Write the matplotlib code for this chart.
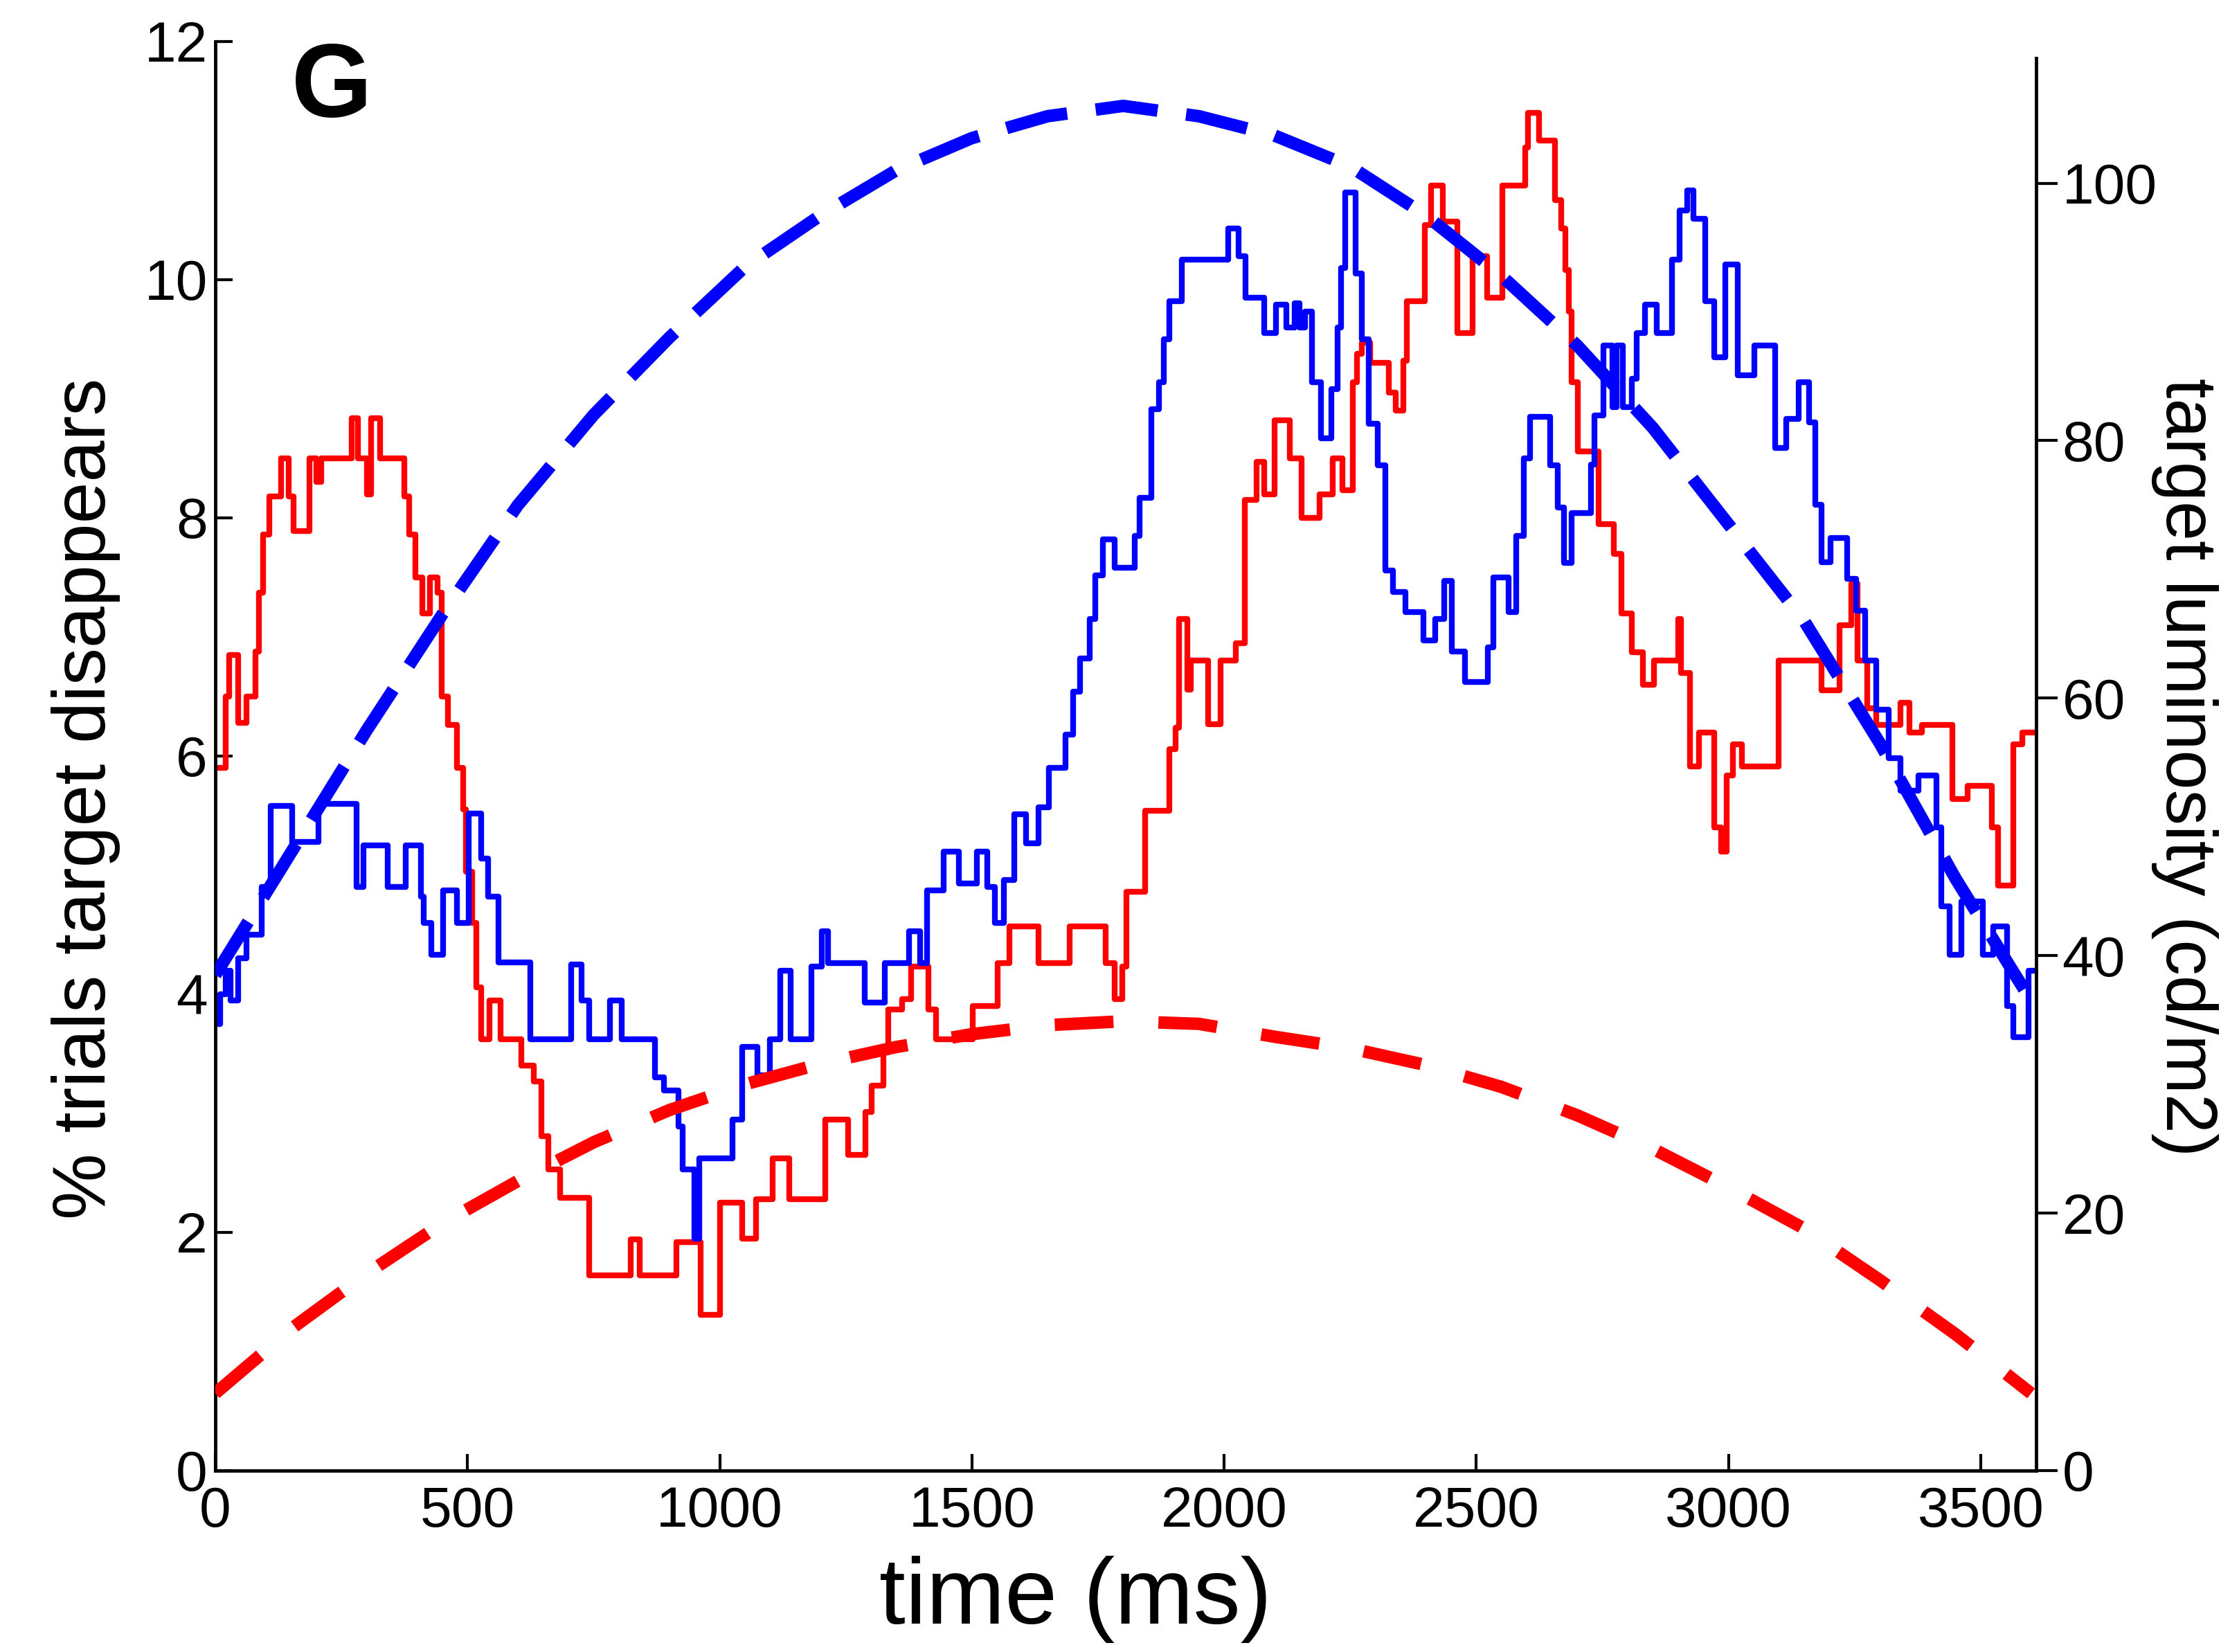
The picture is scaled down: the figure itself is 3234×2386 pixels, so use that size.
import matplotlib
matplotlib.use("Agg")
import matplotlib.pyplot as plt

plt.rcParams["font.family"] = ["Liberation Sans", "DejaVu Sans"]

# -------------------------------
# DATA
# -------------------------------
# % trials target disappears, red condition (step trace)
red_t = [0, 21, 27, 45, 62, 80, 86, 95, 107, 131, 146, 155, 187, 200, 210,
         271, 283, 300, 309, 327, 375, 384, 396, 410, 425, 440, 449, 461, 479,
         491, 497, 509, 518, 527, 544, 565, 607, 631, 646, 660, 684, 741, 824,
         842, 914, 962, 1001, 1045, 1072, 1105, 1138, 1209, 1254, 1289, 1301,
         1325, 1334, 1361, 1379, 1414, 1429, 1501, 1551, 1575, 1632, 1694,
         1765, 1783, 1798, 1806, 1844, 1892, 1904, 1910, 1927, 1934, 1969,
         1993, 2023, 2041, 2064, 2079, 2100, 2130, 2154, 2189, 2216, 2234,
         2255, 2264, 2273, 2290, 2326, 2340, 2356, 2362, 2398, 2410, 2433,
         2463, 2493, 2522, 2552, 2597, 2603, 2624, 2656, 2668, 2677, 2683,
         2689, 2701, 2743, 2773, 2788, 2809, 2830, 2852, 2900, 2906, 2924,
         2942, 2972, 2985, 2997, 3009, 3027, 3100, 3184, 3220, 3244, 3256,
         3275, 3293, 3341, 3359, 3383, 3444, 3474, 3522, 3534, 3565, 3583,
         3610]
red_pct = [5.9, 6.5, 6.85, 6.28, 6.5, 6.88, 7.37, 7.86, 8.18, 8.5, 8.18, 7.89,
           8.5, 8.3, 8.5, 8.84, 8.5, 8.2, 8.84, 8.5, 8.18, 7.86, 7.5, 7.2, 7.5,
           7.37, 6.5, 6.26, 5.9, 5.55, 5.03, 4.6, 4.06, 3.62, 3.95, 3.62, 3.4,
           3.27, 2.81, 2.53, 2.29, 1.64, 1.94, 1.64, 1.92, 1.31, 2.25, 1.95,
           2.28, 2.62, 2.28, 2.95, 2.65, 3.01, 3.23, 3.53, 3.87, 3.96, 4.23,
           3.87, 3.62, 3.9, 4.26, 4.57, 4.26, 4.57, 4.26, 3.96, 4.23, 4.86,
           5.54, 6.06, 6.24, 7.15, 6.56, 6.8, 6.27, 6.8, 6.95, 8.15, 8.47, 8.2,
           8.82, 8.5, 8.0, 8.2, 8.5, 8.23, 9.14, 9.38, 9.47, 9.3, 9.05, 8.9,
           9.32, 9.82, 10.46, 10.79, 10.49, 9.55, 10.2, 9.85, 10.79, 11.11,
           11.4, 11.17, 10.67, 10.43, 10.08, 9.73, 9.14, 8.56, 7.95, 7.7, 7.2,
           6.87, 6.6, 6.8, 7.15, 6.7, 5.91, 6.2, 5.4, 5.2, 5.84, 6.1, 5.91, 6.8,
           6.55, 7.1, 7.45, 6.8, 6.4, 6.26, 6.45, 6.2, 6.26, 5.64, 5.75, 5.4,
           4.91, 6.1, 6.2, 6.2]

# % trials target disappears, blue condition (step trace)
blue_t = [0, 10, 21, 30, 45, 62, 92, 110, 152, 205, 280, 294, 342, 378, 408,
          413, 428, 452, 479, 503, 527, 541, 562, 625, 705, 726, 741, 782, 806,
          872, 890, 918, 926, 950, 959, 1025, 1045, 1075, 1099, 1120, 1141,
          1182, 1203, 1215, 1287, 1328, 1376, 1397, 1411, 1444, 1474, 1510,
          1530, 1545, 1563, 1584, 1608, 1632, 1652, 1685, 1700, 1715, 1733,
          1745, 1760, 1783, 1823, 1832, 1856, 1871, 1880, 1892, 1916, 2008,
          2029, 2043, 2079, 2103, 2124, 2140, 2150, 2160, 2174, 2192, 2213,
          2225, 2232, 2240, 2261, 2273, 2287, 2305, 2320, 2335, 2359, 2395,
          2418, 2436, 2451, 2478, 2523, 2534, 2564, 2579, 2594, 2606, 2647,
          2662, 2674, 2689, 2728, 2734, 2752, 2770, 2778, 2790, 2809, 2818,
          2834, 2858, 2888, 2903, 2918, 2930, 2954, 2972, 2994, 3018, 3051,
          3093, 3115, 3139, 3160, 3172, 3184, 3202, 3235, 3253, 3271, 3293,
          3317, 3341, 3377, 3413, 3422, 3438, 3462, 3504, 3525, 3552, 3565,
          3595, 3610]
blue_pct = [3.75, 4.0, 4.2, 3.95, 4.3, 4.5, 4.9, 5.58, 5.28, 5.6, 4.9, 5.25,
            4.9, 5.25, 4.82, 4.6, 4.33, 4.87, 4.6, 5.52, 5.14, 4.82, 4.27,
            3.62, 4.25, 3.95, 3.62, 3.95, 3.62, 3.3, 3.19, 2.89, 2.53, 1.95,
            2.62, 2.95, 3.56, 3.32, 3.62, 4.2, 3.62, 4.23, 4.53, 4.26, 3.93,
            4.26, 4.53, 4.26, 4.87, 5.2, 4.93, 5.2, 4.9, 4.6, 4.96, 5.51, 5.27,
            5.57, 5.9, 6.18, 6.54, 6.82, 7.15, 7.52, 7.82, 7.58, 7.85, 8.17,
            8.91, 9.14, 9.5, 9.82, 10.17, 10.43, 10.2, 9.85, 9.55, 9.79, 9.6,
            9.8, 9.6, 9.73, 9.14, 8.67, 9.08, 9.6, 10.1, 10.73, 10.05, 9.5,
            8.79, 8.44, 7.56, 7.38, 7.21, 6.97, 7.15, 7.47, 6.88, 6.62, 6.91,
            7.5, 7.21, 7.85, 8.5, 8.85, 8.44, 8.09, 7.62, 8.04, 8.45, 8.86,
            9.45, 8.93, 9.45, 8.93, 9.17, 9.55, 9.79, 9.55, 10.17, 10.58,
            10.75, 10.51, 9.82, 9.35, 10.13, 9.2, 9.45, 8.59, 8.83, 9.14, 8.8,
            8.11, 7.63, 7.83, 7.49, 7.22, 6.8, 6.39, 5.98, 5.71, 5.84, 5.4,
            4.74, 4.33, 4.78, 4.33, 4.57, 3.9, 3.64, 4.2, 4.2]

# target luminosity (cd/m2), dashed curves on the right axis
lum_t = [0, 150, 300, 450, 600, 750, 900, 1050, 1200, 1350, 1500, 1650, 1800,
         1950, 2100, 2250, 2400, 2550, 2700, 2850, 3000, 3150, 3300, 3450, 3600]
lum_blue = [38.5, 48.0, 57.5, 66.5, 75.0, 82.0, 88.0, 93.5, 97.5, 101.0,
            103.5, 105.2, 106.0, 105.2, 103.7, 101.3, 97.5, 92.8, 87.4, 81.0,
            73.5, 66.0, 56.5, 46.0, 36.5]
lum_red = [6.0, 11.0, 15.3, 19.2, 22.5, 25.5, 28.0, 30.0, 31.6, 32.9, 33.9,
           34.6, 34.9, 34.7, 33.7, 32.8, 31.5, 29.8, 27.6, 25.0, 22.0, 18.8,
           14.8, 10.6, 6.0]

x_ticks = [0, 500, 1000, 1500, 2000, 2500, 3000, 3500]
left_ticks = [0, 2, 4, 6, 8, 10, 12]
right_ticks = [0, 20, 40, 60, 80, 100]

# -------------------------------
# PLOT
# -------------------------------
fig = plt.figure(figsize=(32.34, 23.86), dpi=100)
ax = fig.add_axes([0.09617, 0.10981, 0.81323, 0.86505])
ax2 = ax.twinx()

ax.step(red_t, red_pct, where="post", color="#ff0000", lw=6)
ax.step(blue_t, blue_pct, where="post", color="#0000ff", lw=6)

ax2.plot(lum_t, lum_blue, color="#0000ff", lw=13, dashes=(5.0, 2.3))
ax2.plot(lum_t, lum_red, color="#ff0000", lw=13, dashes=(4.7, 3.6))

ax.set_xlim(0, 3610)
ax.set_ylim(0, 12)
ax2.set_ylim(0, 111)

ax.set_xticks(x_ticks)
ax.set_yticks(left_ticks)
ax2.set_yticks(right_ticks)

for s in ["top", "right"]:
    ax.spines[s].set_visible(False)
for s in ["top", "left", "bottom"]:
    ax2.spines[s].set_visible(False)
for s in ["left", "bottom"]:
    ax.spines[s].set_linewidth(3.5)
ax2.spines["right"].set_linewidth(3.5)
ax2.spines["right"].set_bounds(0, 109.7)

ax.tick_params(axis="x", direction="in", length=17, width=3, labelsize=59, pad=16)
ax.tick_params(axis="y", direction="in", length=18, width=3, labelsize=59, pad=8)
ax2.tick_params(axis="y", direction="out", length=22, width=3, labelsize=59, pad=5)

# axis titles and panel letter
ax.text(-0.0711, 0.4704, "% trials target disappears", transform=ax.transAxes,
        rotation=90, ha="center", va="center", fontsize=77.5)
ax.text(1.0817, 0.492, "target luminosity (cd/m2)", transform=ax.transAxes,
        rotation=270, ha="center", va="center", fontsize=74)
ax.text(0.4725, -0.090, "time (ms)", transform=ax.transAxes,
        ha="center", va="center", fontsize=98)
fig.text(0.1302, 0.9292, "G", ha="left", va="baseline", fontsize=108,
         fontweight="bold")

fig.savefig("out.png", dpi=100)
